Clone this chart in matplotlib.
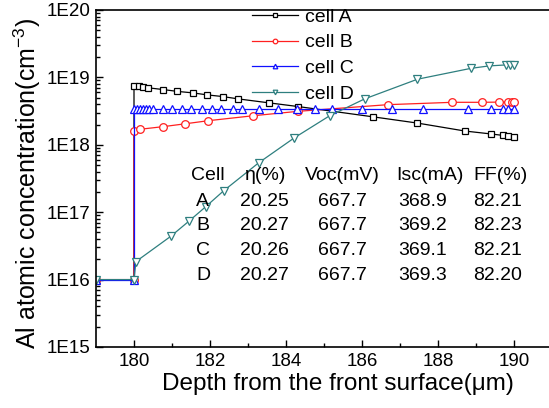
import math
import matplotlib
matplotlib.use("Agg")
import matplotlib.pyplot as plt
from matplotlib.ticker import FixedLocator, LogLocator, FuncFormatter, NullFormatter

plt.rcParams['font.family'] = ['Liberation Sans', 'DejaVu Sans']

# depth (um) and Al concentration (cm^-3)
a_x = [179, 180, 180, 180.13, 180.24, 180.38, 180.77, 181.14, 181.54, 181.93, 182.33,
       182.74, 183.54, 184.31, 186.29, 187.46, 188.71, 189.39, 189.70, 189.85, 190.0]
a_y = [1e16, 1e16, 7.5e18, 7.4e18, 7.2e18, 7.0e18, 6.6e18, 6.2e18, 5.9e18, 5.5e18, 5.2e18,
       4.8e18, 4.2e18, 3.7e18, 2.6e18, 2.1e18, 1.6e18, 1.45e18, 1.38e18, 1.35e18, 1.3e18]

b_x = [179, 180, 180, 180.16, 180.77, 181.35, 181.96, 183.14, 184.32, 186.68, 188.38,
       189.15, 189.61, 189.85, 189.94, 190.0]
b_y = [1e16, 1e16, 1.6e18, 1.7e18, 1.86e18, 2.05e18, 2.28e18, 2.7e18, 3.14e18, 3.94e18, 4.27e18,
       4.27e18, 4.3e18, 4.3e18, 4.3e18, 4.3e18]

c_x = [179, 180, 180, 180.08, 180.16, 180.24, 180.32, 180.4, 180.5, 180.75, 181.0, 181.25,
       181.5, 181.8, 182.05, 182.3, 182.6, 182.85, 183.3, 183.8, 184.3, 184.75, 185.2, 186.0,
       186.8, 187.6, 188.8, 189.4, 189.7, 189.85, 190.0]
c_y = [1e16, 1e16] + [3.35e18] * 29

d_x = [179, 180, 180.05, 180.97, 181.45, 181.89, 182.36, 183.28, 184.22, 185.15, 186.07,
       187.46, 188.86, 189.34, 189.78, 189.9, 190.0]
d_y = [1e16, 1e16, 1.85e16, 4.4e16, 7.4e16, 1.21e17, 2.08e17, 5.4e17, 1.27e18, 2.7e18, 4.8e18,
       9.4e18, 1.36e19, 1.48e19, 1.53e19, 1.53e19, 1.53e19]

# solar cell parameters table
cells = ['A', 'B', 'C', 'D']
eta = ['20.25', '20.27', '20.26', '20.27']
voc = ['667.7', '667.7', '667.7', '667.7']
isc = ['368.9', '369.2', '369.1', '369.3']
ff = ['82.21', '82.23', '82.21', '82.20']

W, H = 549, 408
fig = plt.figure(figsize=(W / 100, H / 100), dpi=100)
ax = fig.add_axes([96 / W, 1 - 347 / H, 456 / W, 337 / H])

ax.plot(a_x, a_y, color='black', lw=0.9, marker='s', ms=5, mfc='white', mew=0.9, label='cell A')
ax.plot(b_x, b_y, color='#ff2020', lw=0.9, marker='o', ms=5.5, mfc='white', mew=0.9, label='cell B')
ax.plot(c_x, c_y, color='#1010ff', lw=0.9, marker='^', ms=5.5, mfc='white', mew=0.9, label='cell C')
ax.plot(d_x, d_y, color='#2e7f7f', lw=0.9, marker='v', ms=5.5, mfc='white', mew=0.9, label='cell D')

ax.set_yscale('log')
ax.set_xlim(179, 191)
ax.set_ylim(1e15, 1e20)
ax.xaxis.set_major_locator(FixedLocator([180, 182, 184, 186, 188, 190]))
ax.xaxis.set_minor_locator(FixedLocator([181, 183, 185, 187, 189]))
ax.yaxis.set_major_locator(LogLocator(base=10, numticks=10))
ax.yaxis.set_minor_locator(LogLocator(base=10, subs=range(2, 10), numticks=20))
ax.yaxis.set_minor_formatter(NullFormatter())
ax.yaxis.set_major_formatter(FuncFormatter(lambda v, p: '1E%d' % round(math.log10(v))))

ax.tick_params(which='both', direction='in', labelsize=13.5, width=1.0)
ax.tick_params(which='major', length=5)
ax.tick_params(which='minor', length=3)
ax.tick_params(axis='x', pad=4.5)
ax.tick_params(axis='y', pad=4)
for s in ax.spines.values():
    s.set_linewidth(1.2)
ax.spines['right'].set_visible(False)

ax.set_xlabel('Depth from the front surface(\u03bcm)', fontsize=17.5)
ax.xaxis.set_label_coords(0.53, -0.076)
ax.set_ylabel('Al atomic concentration(cm$^{\\mathregular{-3}}$)', fontsize=18)
ax.yaxis.set_label_coords(-0.117, 0.487)

ax.legend(loc='upper left', bbox_to_anchor=(252 / W, 1 - 8 / H), bbox_transform=fig.transFigure,
          frameon=False, fontsize=14, handlelength=2.37, handletextpad=0.36, labelspacing=0.42,
          borderpad=0, borderaxespad=0, markerscale=0.6)

# table of parameters
fs = 14
col_x = [191, 245, 305, 396, 473]
header = ['Cell', '\u03b7(%)', 'Voc(mV)', 'Isc(mA)', 'FF(%)']
for cx, t in zip(col_x, header):
    fig.text(cx / W, 1 - 175 / H, t, fontsize=fs, va='center', ha='left')
val_x = [196, 240, 318, 398, 473]
row_y = [201.5, 226, 250.5, 275.5]
for i in range(len(cells)):
    row = [cells[i], eta[i], voc[i], isc[i], ff[i]]
    for vx, t in zip(val_x, row):
        fig.text(vx / W, 1 - row_y[i] / H, t, fontsize=fs, va='center', ha='left')

fig.savefig('out.png', dpi=100)
